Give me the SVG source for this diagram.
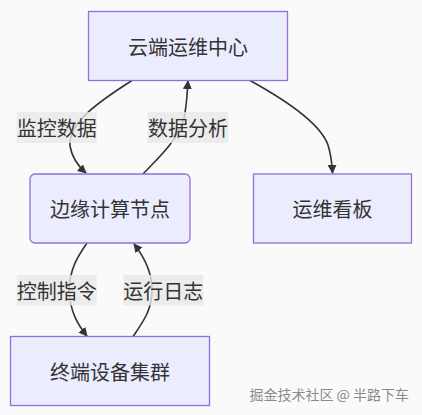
<svg xmlns="http://www.w3.org/2000/svg" width="422" height="415" viewBox="0 0 422 415">
<style>
.node rect{fill:#ECECFF;stroke:#9370DB;stroke-width:1.3}
.node text{font-family:"Noto Sans CJK SC","Noto Sans",sans-serif;font-size:20px;fill:#333;text-anchor:middle;dominant-baseline:central}
.edge{fill:none;stroke:#333;stroke-width:1.6}
.lbl rect{fill:rgba(232,232,232,0.8)}
.lbl text{font-family:"Noto Sans CJK SC","Noto Sans",sans-serif;font-size:20px;fill:#333;text-anchor:middle;dominant-baseline:central}
.wm{font-family:"Noto Sans CJK SC","Noto Sans",sans-serif;font-size:14px;fill:#8a8a8a}
</style>
<defs>
<marker id="arr" viewBox="0 0 10 10" refX="9" refY="5" markerWidth="9" markerHeight="9" markerUnits="userSpaceOnUse" orient="auto">
<path d="M0,0 L10,5 L0,10 z" fill="#333"/>
</marker>
</defs>
<rect width="422" height="415" fill="#fafafa"/>
<g id="connectors">
<path class="edge" d="M132,80.5 C95,104 68,124 70,146 C72,158 78,166 86,173" marker-end="url(#arr)"/>
<path class="edge" d="M143,174 C160,156 178,140 184,118 C187,104 187,94 188,81" marker-end="url(#arr)"/>
<path class="edge" d="M250,80.5 C300,108 322,128 328,145 C331,155 332,163 332.5,173" marker-end="url(#arr)"/>
<path class="edge" d="M87,243 C78,256 70,268 69,290 C70,312 78,325 87,336" marker-end="url(#arr)"/>
<path class="edge" d="M133,336.5 C143,322 152,310 152,290 C152,272 145,258 134,244" marker-end="url(#arr)"/>
</g>
<g id="edge-labels">
<g class="lbl"><rect x="16.7" y="112" width="80" height="31"/><text x="56.7" y="127.5">监控数据</text></g>
<g class="lbl"><rect x="147.7" y="112" width="80.6" height="31"/><text x="188" y="127.5">数据分析</text></g>
<g class="lbl"><rect x="16.7" y="275" width="80" height="30.5"/><text x="56.7" y="290">控制指令</text></g>
<g class="lbl"><rect x="123.3" y="275" width="80" height="30.5"/><text x="163.3" y="290">运行日志</text></g>
</g>
<g id="n1" class="node"><rect x="88.5" y="11.5" width="199" height="69"/><text x="188" y="46">云端运维中心</text></g>
<g id="n2" class="node"><rect x="30" y="174" width="160" height="69" rx="5"/><text x="110" y="208.5">边缘计算节点</text></g>
<g id="n3" class="node"><rect x="253.5" y="174" width="158" height="69"/><text x="332.5" y="208.5">运维看板</text></g>
<g id="n4" class="node"><rect x="10.5" y="336.5" width="199" height="69"/><text x="110" y="371">终端设备集群</text></g>
<text class="wm" x="409" y="400" text-anchor="end">掘金技术社区 @ 半路下车</text>
</svg>
